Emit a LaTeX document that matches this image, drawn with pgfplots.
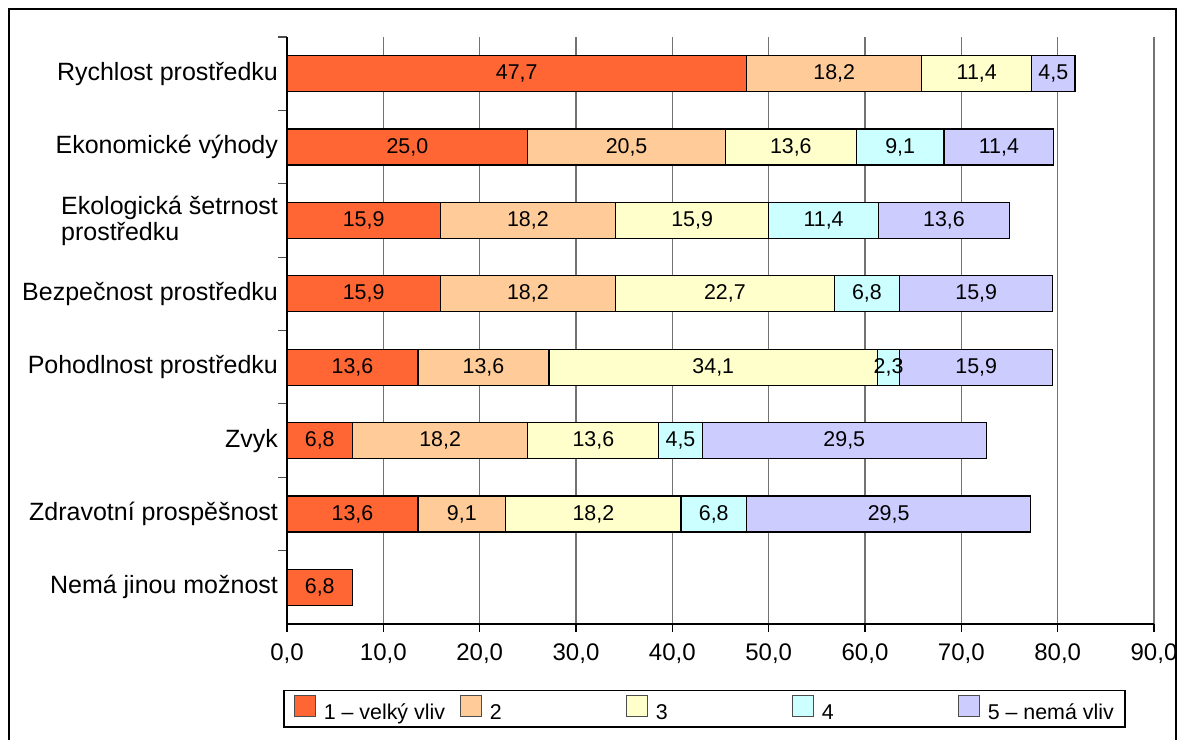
\documentclass[border=0pt]{standalone}
\usepackage{pgfplots}
\usepackage{pgfplotstable}
\pgfplotsset{compat=1.18}
\usepackage{fontspec}
\setmainfont{Liberation Sans}

\definecolor{c1}{RGB}{255,102,51}
\definecolor{c2}{RGB}{255,204,153}
\definecolor{c3}{RGB}{255,255,204}
\definecolor{c4}{RGB}{204,255,255}
\definecolor{c5}{RGB}{204,204,255}

\newcommand{\numfont}{\fontsize{10.7pt}{12pt}\selectfont}
\newcommand{\tickfont}{\fontsize{12pt}{13pt}\selectfont}
\newcommand{\catfont}{\fontsize{12.5pt}{13pt}\selectfont}

% share of answers (%) per reason, rating 1 (strong influence) .. 5 (no influence)
\pgfplotstableread{
pos v1   v2   v3   v4   v5
0   47.7 18.2 11.4 0    4.5
1   25.0 20.5 13.6 9.1  11.4
2   15.9 18.2 15.9 11.4 13.6
3   15.9 18.2 22.7 6.8  15.9
4   13.6 13.6 34.1 2.3  15.9
5   6.8  18.2 13.6 4.5  29.5
6   13.6 9.1  18.2 6.8  29.5
7   6.8  0    0    0    0
}\datatable

\begin{document}
\begin{tikzpicture}
\useasboundingbox (0,0) rectangle (590.5pt,369.5pt);
\draw[line width=0.75pt] (4.5pt,-5pt) rectangle (588pt,365pt);
\begin{axis}[
  at={(143.5pt,57.5pt)}, anchor=south west,
  scale only axis, width=433.5pt, height=293.5pt,
  xbar stacked, bar width=0.49,
  xmin=0, xmax=90, ymin=-0.5, ymax=7.5, y dir=reverse,
  axis x line=bottom, axis y line=left,
  axis line style={-, black, line width=0.7pt},
  tick align=outside,
  major tick length=4pt, minor tick length=4.5pt,
  xtick={0,10,...,90},
  scaled x ticks=false,
  xmajorgrids, major x grid style={black!55, line width=0.65pt},
  major x tick style={black, line width=0.6pt},
  xticklabel style={font=\tickfont, inner sep=0pt, yshift=-5.5pt,
    /pgf/number format/fixed, /pgf/number format/fixed zerofill,
    /pgf/number format/precision=1, /pgf/number format/use comma,
    /pgf/number format/assume math mode=true},
  ytick={0,...,7},
  minor ytick={-0.5,0.5,...,6.5},
  major y tick style={draw=none},
  minor y tick style={black!70, line width=0.6pt},
  yticklabels={Rychlost prostředku, Ekonomické výhody,
    {Ekologická šetrnost\\prostředku}, Bezpečnost prostředku,
    Pohodlnost prostředku, Zvyk, Zdravotní prospěšnost,
    Nemá jinou možnost},
  yticklabel style={font=\catfont, align=left, xshift=3pt},
  visualization depends on=rawx \as \rawx,
  % value labels sit in the middle of each segment; empty segments get none
  nodes near coords={\ifdim\rawx pt=0pt\else\pgfmathprintnumber[fixed,fixed zerofill,precision=1,use comma,assume math mode=true]{\rawx}\fi},
  every node near coord/.append style={anchor=center, font=\numfont},
  legend columns=5,
  legend style={at={(-0.0046,-0.1124)}, anchor=north west,
    draw=black, line width=0.75pt, inner xsep=5pt, inner ysep=2pt,
    font=\numfont, nodes={inner sep=0pt},
    /tikz/every odd column/.style={column sep=4pt},
    /tikz/every even column/.style={column sep=0pt}},
  legend image code/.code={\draw[#1, draw=black!70, line width=0.5pt] (0pt,-1.4pt) rectangle (10.5pt,9.1pt);},
]
\addplot[fill=c1, draw=black, line width=0.6pt] table[x=v1, y=pos] {\datatable};
\addplot[fill=c2, draw=black, line width=0.6pt] table[x=v2, y=pos] {\datatable};
\addplot[fill=c3, draw=black, line width=0.6pt] table[x=v3, y=pos] {\datatable};
\addplot[fill=c4, draw=black, line width=0.6pt] table[x=v4, y=pos] {\datatable};
\addplot[fill=c5, draw=black, line width=0.6pt] table[x=v5, y=pos] {\datatable};
\legend{\makebox[68pt][l]{1 – velký vliv}, \makebox[68pt][l]{2},
  \makebox[68pt][l]{3}, \makebox[68pt][l]{4}, \makebox[63.5pt][l]{5 – nemá vliv}}
\end{axis}
\end{tikzpicture}
\end{document}
